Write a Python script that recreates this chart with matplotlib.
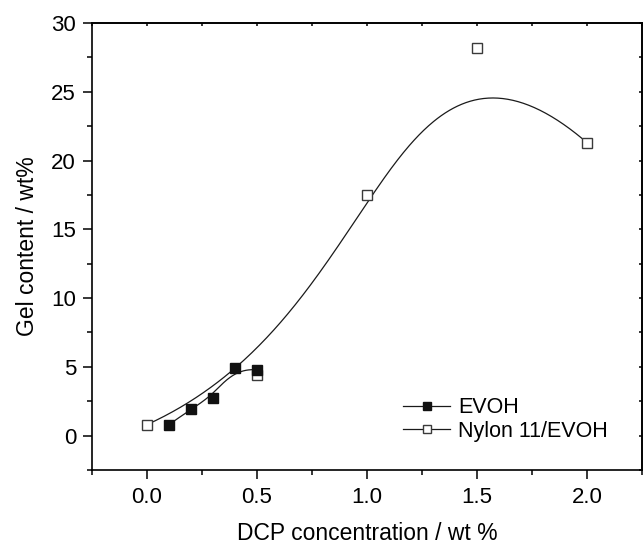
import numpy as np
import matplotlib
matplotlib.use("Agg")
import matplotlib.pyplot as plt
from matplotlib.ticker import MultipleLocator, FormatStrFormatter

# Data
evoh_x = [0.1, 0.2, 0.3, 0.4, 0.5]
evoh_y = [0.8, 1.94, 2.77, 4.93, 4.78]
nylon_x = [0.0, 0.5, 1.0, 1.5, 2.0]
nylon_y = [0.8, 4.44, 17.5, 28.2, 21.3]
labels = ["EVOH", "Nylon 11/EVOH"]


def bspline(px, py, n=300, k=3):
    px = np.asarray(px, float)
    py = np.asarray(py, float)
    m = len(px)
    knots = np.array([0] * (k + 1) + list(range(1, m - k)) + [m - k] * (k + 1), float)
    t = np.linspace(0, m - k, n)
    t[-1] -= 1e-9
    N = np.zeros((n, len(knots) - 1))
    for i in range(len(knots) - 1):
        N[:, i] = ((t >= knots[i]) & (t < knots[i + 1])).astype(float)
    for d in range(1, k + 1):
        Nn = np.zeros((n, len(knots) - 1 - d))
        for i in range(len(knots) - 1 - d):
            a = knots[i + d] - knots[i]
            b = knots[i + d + 1] - knots[i + 1]
            term = np.zeros(n)
            if a > 0:
                term += (t - knots[i]) / a * N[:, i]
            if b > 0:
                term += (knots[i + d + 1] - t) / b * N[:, i + 1]
            Nn[:, i] = term
        N = Nn
    return N @ px, N @ py


plt.rcParams['font.family'] = ['Liberation Sans', 'DejaVu Sans']

fig = plt.figure(figsize=(6.43, 5.47), dpi=100)
ax = fig.add_axes([92 / 643, 1 - 470 / 547, 550 / 643, 447 / 547])

line_col = '#1a1a1a'
ex, ey = bspline(evoh_x, evoh_y)
nx, ny = bspline(nylon_x, nylon_y)
ax.plot(ex, ey, color=line_col, lw=0.9, zorder=2)
ax.plot(nx, ny, color=line_col, lw=0.9, zorder=2)
ax.plot(nylon_x, nylon_y, ls='none', marker='s', ms=6.5, mfc='white',
        mec='#3a3a3a', mew=1.0, zorder=3)
ax.plot(evoh_x, evoh_y, ls='none', marker='s', ms=6.5, mfc='#111111',
        mec='#111111', mew=1.0, zorder=4)

# legend handles
h1, = ax.plot([], [], color=line_col, lw=0.9, marker='s', ms=5.5, mfc='#111111', mec='#111111')
h2, = ax.plot([], [], color=line_col, lw=0.9, marker='s', ms=5.5, mfc='white', mec='#3a3a3a')
leg = ax.legend([h1, h2], labels, loc='center left', bbox_to_anchor=(0.5655, 0.113),
                frameon=False, fontsize=15.5, handlelength=2.2, handletextpad=0.37,
                labelspacing=0.12, borderaxespad=0, borderpad=0)

ax.set_xlim(-0.25, 2.25)
ax.set_ylim(-2.5, 30)
ax.xaxis.set_major_locator(MultipleLocator(0.5))
ax.xaxis.set_minor_locator(MultipleLocator(0.25))
ax.yaxis.set_major_locator(MultipleLocator(5))
ax.yaxis.set_minor_locator(MultipleLocator(2.5))
ax.xaxis.set_major_formatter(FormatStrFormatter('%.1f'))

ax.tick_params(which='major', direction='out', length=6.5, width=1.1, labelsize=16,
               colors='black', top=False, right=False)
ax.tick_params(which='minor', direction='out', length=3.6, width=1.1,
               top=False, right=False)
ax.tick_params(axis='x', which='major', pad=6)
ax.tick_params(axis='y', which='major', pad=5)

# top/right short inward ticks
axt = ax.secondary_xaxis('top')
axt.xaxis.set_major_locator(MultipleLocator(0.5))
axt.xaxis.set_minor_locator(MultipleLocator(0.25))
axt.tick_params(which='both', direction='in', length=2.5, width=1.1, labeltop=False)
axr = ax.secondary_yaxis('right')
axr.yaxis.set_major_locator(MultipleLocator(5))
axr.yaxis.set_minor_locator(MultipleLocator(2.5))
axr.tick_params(which='both', direction='in', length=2.5, width=1.1, labelright=False)
for s in list(axt.spines.values()) + list(axr.spines.values()) + list(ax.spines.values()):
    s.set_linewidth(1.2)

ax.set_xlabel('DCP concentration / wt %', fontsize=16.5, labelpad=10)
ax.set_ylabel('Gel content / wt%', fontsize=16.5, labelpad=9)

fig.savefig('out.png', dpi=100)
